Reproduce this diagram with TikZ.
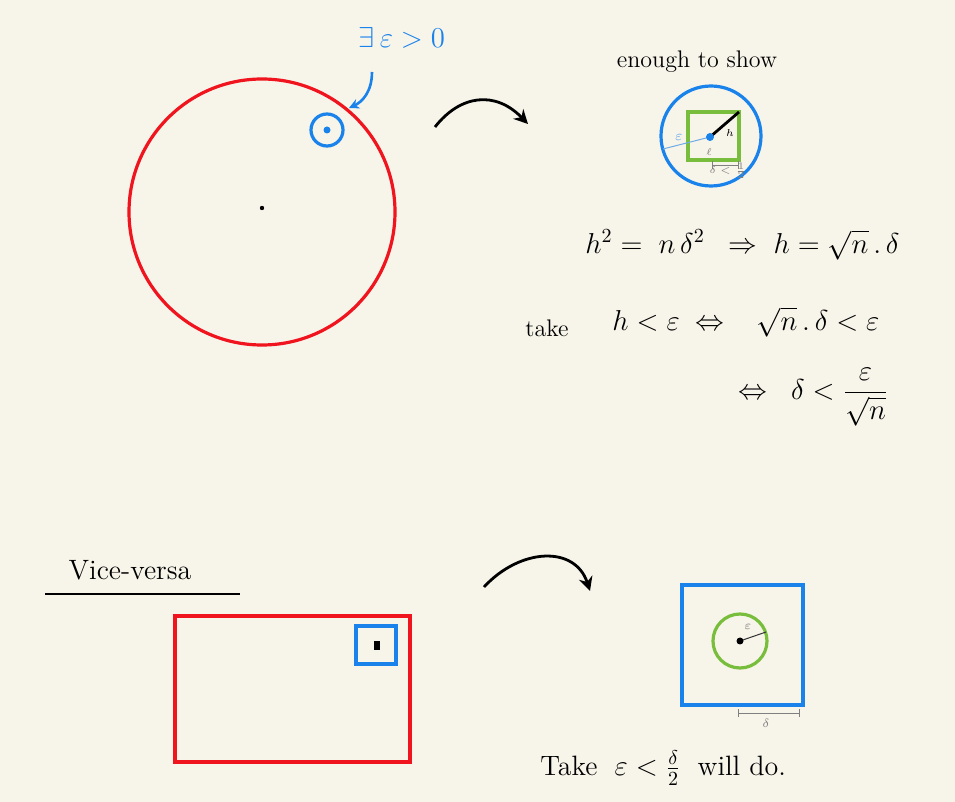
\documentclass[tikz,border=0pt]{standalone}
\usepackage{amsmath}
\usetikzlibrary{arrows.meta}
\definecolor{paper}{RGB}{247,245,234}
\definecolor{myred}{RGB}{240,20,30}
\definecolor{myblue}{RGB}{25,130,235}
\definecolor{mygreen}{RGB}{120,190,60}
\definecolor{lightblue}{RGB}{110,170,230}
\begin{document}
\begin{tikzpicture}[x=0.5pt,y=-0.5pt,
  redline/.style={draw=myred,line width=1.6pt},
  blueline/.style={draw=myblue,line width=1.6pt},
  greenline/.style={draw=mygreen,line width=1.6pt},
  curvearrow/.style={line width=1.4pt,-{Stealth[length=7pt,width=7pt]}},
  hand/.style={inner sep=0pt,font=\fontsize{12}{14}\selectfont},
  eq/.style={inner sep=0pt,font=\fontsize{14}{17}\selectfont},
  tinylbl/.style={inner sep=0pt,font=\fontsize{4}{5}\selectfont,text=gray}]
\fill[paper] (0,0) rectangle (955,802);
\useasboundingbox (0,0) rectangle (955,802);

% ---- top left: big circle
\draw[redline] (262,212) circle[radius=133];
\fill (262,208) circle[radius=2.2];
\node[draw=myblue,line width=1.6pt,circle,minimum size=16pt,inner sep=0pt] (small) at (327,130) {};
\fill[myblue] (small.center) circle[radius=3.5];
\node[hand,text=myblue,font=\fontsize{14}{16}\selectfont] (exists) at (402,38) {$\exists\,\varepsilon>0$};
\coordinate (ea) at (372,72);
\coordinate (eb) at (349,108);
\draw[myblue,line width=1.3pt,-{Stealth[length=5pt,width=5pt]}] (ea) .. controls (372,92) and (362,102) .. (eb);

% ---- arrow top
\coordinate (a1) at (435,127);
\coordinate (a2) at (528,124);
\draw[curvearrow] (a1) .. controls (460,95) and (495,90) .. (a2);

% ---- top right: enough to show
\node[hand] (enough) at (697,62) {enough to show};
\draw[blueline] (711,136) circle[radius=50];
\draw[greenline] (688,112) rectangle (739,160);
\coordinate (ctr) at (710,137);
\coordinate (corner) at (739,112);
\coordinate (epsend) at (663,149);
\draw[lightblue,line width=0.5pt] (ctr) -- (epsend);
\draw[line width=1.4pt] (ctr) -- (corner);
\fill[myblue] (ctr) circle[radius=4];
\node[inner sep=0pt,font=\fontsize{5}{6}\selectfont] (hl) at (730,133) {$h$};
\node[inner sep=0pt,text=lightblue,font=\fontsize{7}{8}\selectfont] (el) at (679,137) {$\varepsilon$};
\node[tinylbl] (ll) at (709,152) {$\ell$};
\coordinate (d1) at (712,165);
\coordinate (d2) at (739,165);
\draw[gray,line width=0.3pt,|-|] (d1) -- (d2);
\node[tinylbl,font=\fontsize{3}{4}\selectfont] (dl) at (728,171) {$\delta<\frac12$};

% ---- equations
\node[eq,anchor=west] (eq1) at (585,245) {$h^2=\;n\,\delta^2\;\;\Rightarrow\;h=\sqrt{n}\,.\,\delta$};
\node[hand] (take) at (547,328) {take};
\node[eq,anchor=west] (eq2) at (612,322) {$h<\varepsilon\;\Leftrightarrow\;\;\;\sqrt{n}\,.\,\delta<\varepsilon$};
\node[eq,anchor=west] (eq3) at (738,397) {$\Leftrightarrow\;\;\delta<\dfrac{\varepsilon}{\sqrt{n}}$};

% ---- bottom left: vice-versa
\node[hand,font=\fontsize{14}{16}\selectfont] (vice) at (130,570) {Vice-versa};
\coordinate (u1) at (45,594);
\coordinate (u2) at (240,594);
\draw[line width=1.3pt] (u1) -- (u2);
\draw[redline] (175,616) rectangle (410,762);
\draw[blueline] (356,626) rectangle (396,664);
\fill (374,641) rectangle (380,650);

% ---- arrow bottom
\coordinate (b1) at (484,587);
\coordinate (b2) at (590,591);
\draw[curvearrow] (b1) .. controls (520,548) and (575,545) .. (b2);

% ---- bottom right
\draw[blueline] (682,585) rectangle (803,705);
\node[draw=mygreen,line width=1.6pt,circle,minimum size=27pt,inner sep=0pt] (gc) at (740,641) {};
\coordinate (gr) at (766,632);
\draw[line width=0.5pt,black!80] (gc.center) -- (gr);
\fill (gc.center) circle[radius=3.5];
\node[tinylbl,font=\fontsize{6}{7}\selectfont] (epsl) at (748,627) {$\varepsilon$};
\coordinate (s1) at (738,713);
\coordinate (s2) at (800,713);
\draw[gray,line width=0.3pt,|-|] (s1) -- (s2);
\node[tinylbl,font=\fontsize{6}{7}\selectfont] (dl2) at (766,723) {$\delta$};

\node[eq,anchor=west] (final) at (540,768) {Take $\;\varepsilon<\frac{\delta}{2}\;$ will do.};
\end{tikzpicture}
\end{document}
